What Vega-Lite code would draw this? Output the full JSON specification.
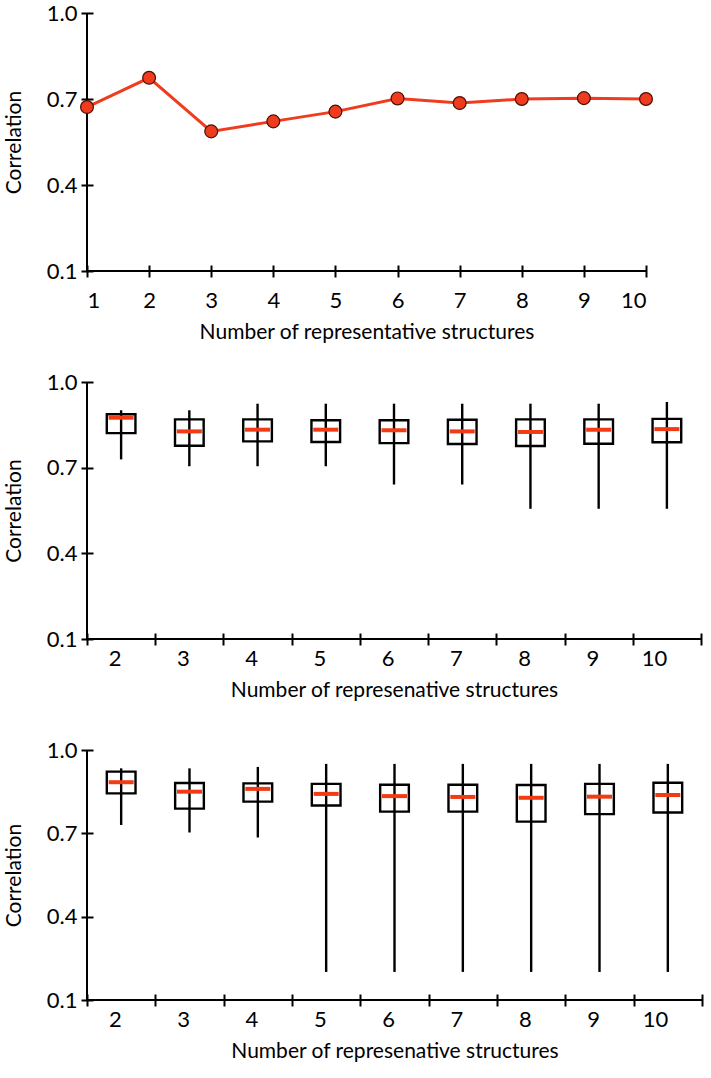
{
  "$schema": "https://vega.github.io/schema/vega-lite/v6.json",
  "padding": {"left": 3, "top": 2, "right": 5, "bottom": 5},
  "bounds": "flush",
  "spacing": 111,
  "config": {
    "font": "Lato",
    "view": {"stroke": null},
    "axis": {
      "labelFont": "Lato", "labelFontSize": 22, "labelColor": "black",
      "titleFont": "Lato", "titleFontSize": 21, "titleFontWeight": "normal", "titleColor": "black",
      "tickColor": "black", "tickWidth": 2, "tickSize": 12, "offset": -6,
      "domain": false, "grid": false
    }
  },
  "vconcat": [
    {
      "width": 559, "height": 258,
      "data": {"values": [
        {"n": 1, "r": 0.672}, {"n": 2, "r": 0.774}, {"n": 3, "r": 0.587}, {"n": 4, "r": 0.622},
        {"n": 5, "r": 0.656}, {"n": 6, "r": 0.702}, {"n": 7, "r": 0.686}, {"n": 8, "r": 0.700},
        {"n": 9, "r": 0.703}, {"n": 10, "r": 0.700}
      ]},
      "layer": [
        {"mark": {"type": "rule", "color": "black", "strokeWidth": 2},
         "encoding": {"y": {"datum": 0.1, "type": "quantitative", "scale": {"domain": [0.1, 1.0], "nice": false, "zero": false}}}},
        {"mark": {"type": "rule", "color": "black", "strokeWidth": 2},
         "encoding": {"x": {"datum": 1, "type": "quantitative", "scale": {"domain": [1, 10], "nice": false, "zero": false}}}},
        {"mark": {"type": "line", "color": "#f03c1e", "strokeWidth": 3},
         "encoding": {
           "x": {"field": "n", "type": "quantitative", "scale": {"domain": [1, 10], "nice": false, "zero": false},
                 "axis": {"title": "Number of representative structures", "values": [1,2,3,4,5,6,7,8,9,10], "format": "d", "labelPadding": 13, "titlePadding": 10}},
           "y": {"field": "r", "type": "quantitative", "scale": {"domain": [0.1, 1.0], "nice": false, "zero": false},
                 "axis": {"title": "Correlation", "values": [0.1, 0.4, 0.7, 1.0], "format": ".1f", "labelPadding": 4, "titlePadding": 22}}
         }},
        {"mark": {"type": "point", "filled": true, "size": 165, "fill": "#f03c1e", "stroke": "#4a1005", "strokeWidth": 1.2, "opacity": 1},
         "encoding": {
           "x": {"field": "n", "type": "quantitative"},
           "y": {"field": "r", "type": "quantitative"}
         }}
      ]
    },
    {
      "width": 614, "height": 257,
      "data": {"values": [
        {"n": 2, "min": 0.729, "q1": 0.821, "med": 0.875, "q3": 0.887, "max": 0.901},
        {"n": 3, "min": 0.705, "q1": 0.777, "med": 0.827, "q3": 0.869, "max": 0.901},
        {"n": 4, "min": 0.705, "q1": 0.792, "med": 0.833, "q3": 0.869, "max": 0.924},
        {"n": 5, "min": 0.705, "q1": 0.790, "med": 0.833, "q3": 0.866, "max": 0.924},
        {"n": 6, "min": 0.641, "q1": 0.786, "med": 0.831, "q3": 0.866, "max": 0.924},
        {"n": 7, "min": 0.641, "q1": 0.783, "med": 0.827, "q3": 0.868, "max": 0.924},
        {"n": 8, "min": 0.556, "q1": 0.776, "med": 0.825, "q3": 0.869, "max": 0.924},
        {"n": 9, "min": 0.556, "q1": 0.784, "med": 0.833, "q3": 0.869, "max": 0.924},
        {"n": 10, "min": 0.556, "q1": 0.789, "med": 0.835, "q3": 0.871, "max": 0.930}
      ]},
      "layer": [
        {"mark": {"type": "rule", "color": "black", "strokeWidth": 2},
         "encoding": {"y": {"datum": 0.1, "type": "quantitative", "scale": {"domain": [0.1, 1.0], "nice": false, "zero": false}}}},
        {"mark": {"type": "rule", "color": "black", "strokeWidth": 2},
         "encoding": {"x": {"datum": 2, "type": "ordinal", "bandPosition": 0}}},
        {"mark": {"type": "bar", "fill": "white", "stroke": "black", "strokeWidth": 2.4, "width": {"band": 0.42}},
         "encoding": {
           "x": {"field": "n", "type": "ordinal", "scale": {"paddingInner": 0, "paddingOuter": 0},
                 "axis": {"title": "Number of represenative structures", "labelAngle": 0, "tickBand": "extent", "labelPadding": 13, "titlePadding": 10}},
           "y": {"field": "q1", "type": "quantitative", "scale": {"domain": [0.1, 1.0], "nice": false, "zero": false},
                 "axis": {"title": "Correlation", "values": [0.1, 0.4, 0.7, 1.0], "format": ".1f", "labelPadding": 4, "titlePadding": 22}},
           "y2": {"field": "q3"}
         }},
        {"mark": {"type": "rule", "color": "black", "strokeWidth": 2.4},
         "encoding": {
           "x": {"field": "n", "type": "ordinal"},
           "y": {"field": "min", "type": "quantitative", "axis": {"title": "Correlation"}},
           "y2": {"field": "max"}
         }},
        {"mark": {"type": "tick", "color": "#f23a14", "opacity": 1, "thickness": 4, "size": 25, "orient": "horizontal"},
         "encoding": {
           "x": {"field": "n", "type": "ordinal"},
           "y": {"field": "med", "type": "quantitative", "axis": {"title": "Correlation"}}
         }}
      ]
    },
    {
      "width": 615, "height": 250,
      "data": {"values": [
        {"n": 2, "min": 0.730, "q1": 0.844, "med": 0.884, "q3": 0.922, "max": 0.934},
        {"n": 3, "min": 0.703, "q1": 0.789, "med": 0.850, "q3": 0.881, "max": 0.934},
        {"n": 4, "min": 0.685, "q1": 0.814, "med": 0.860, "q3": 0.880, "max": 0.939},
        {"n": 5, "min": 0.201, "q1": 0.800, "med": 0.842, "q3": 0.878, "max": 0.950},
        {"n": 6, "min": 0.201, "q1": 0.778, "med": 0.834, "q3": 0.875, "max": 0.950},
        {"n": 7, "min": 0.201, "q1": 0.778, "med": 0.831, "q3": 0.875, "max": 0.950},
        {"n": 8, "min": 0.201, "q1": 0.742, "med": 0.828, "q3": 0.874, "max": 0.950},
        {"n": 9, "min": 0.201, "q1": 0.769, "med": 0.832, "q3": 0.878, "max": 0.950},
        {"n": 10, "min": 0.201, "q1": 0.775, "med": 0.838, "q3": 0.882, "max": 0.950}
      ]},
      "layer": [
        {"mark": {"type": "rule", "color": "black", "strokeWidth": 2},
         "encoding": {"y": {"datum": 0.1, "type": "quantitative", "scale": {"domain": [0.1, 1.0], "nice": false, "zero": false}}}},
        {"mark": {"type": "rule", "color": "black", "strokeWidth": 2},
         "encoding": {"x": {"datum": 2, "type": "ordinal", "bandPosition": 0}}},
        {"mark": {"type": "bar", "fill": "white", "stroke": "black", "strokeWidth": 2.4, "width": {"band": 0.42}},
         "encoding": {
           "x": {"field": "n", "type": "ordinal", "scale": {"paddingInner": 0, "paddingOuter": 0},
                 "axis": {"title": "Number of represenative structures", "labelAngle": 0, "tickBand": "extent", "labelPadding": 13, "titlePadding": 10}},
           "y": {"field": "q1", "type": "quantitative", "scale": {"domain": [0.1, 1.0], "nice": false, "zero": false},
                 "axis": {"title": "Correlation", "values": [0.1, 0.4, 0.7, 1.0], "format": ".1f", "labelPadding": 4, "titlePadding": 22}},
           "y2": {"field": "q3"}
         }},
        {"mark": {"type": "rule", "color": "black", "strokeWidth": 2.4},
         "encoding": {
           "x": {"field": "n", "type": "ordinal"},
           "y": {"field": "min", "type": "quantitative", "axis": {"title": "Correlation"}},
           "y2": {"field": "max"}
         }},
        {"mark": {"type": "tick", "color": "#f23a14", "opacity": 1, "thickness": 4, "size": 25, "orient": "horizontal"},
         "encoding": {
           "x": {"field": "n", "type": "ordinal"},
           "y": {"field": "med", "type": "quantitative", "axis": {"title": "Correlation"}}
         }}
      ]
    }
  ]
}
